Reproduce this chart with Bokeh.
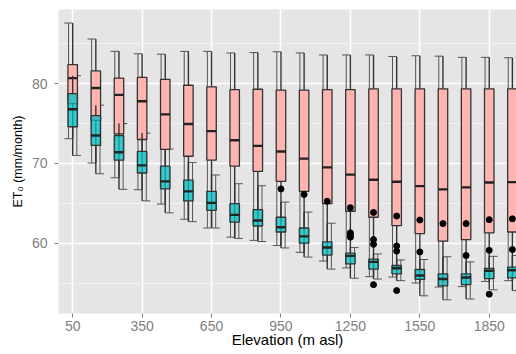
import numpy as np
from bokeh.plotting import figure
from bokeh.models import ColumnDataSource, FixedTicker, Range1d
from bokeh.embed import file_html
from bokeh.resources import INLINE

# ---- data ----
elevation = [50, 150, 250, 350, 450, 550, 650, 750, 850, 950,
             1050, 1150, 1250, 1350, 1450, 1550, 1650, 1750, 1850, 1950]

pink_upper = [87.6, 85.6, 84.05, 83.75, 83.7, 84.05, 84.05, 83.85, 83.9, 84.0,
              83.85, 83.6, 83.6, 83.6, 83.4, 83.5, 83.45, 83.3, 83.3, 83.25]
pink_q3 = [82.4, 81.6, 80.7, 80.8, 80.55, 79.8, 79.6, 79.25, 79.3, 79.2,
           79.2, 79.25, 79.25, 79.35, 79.35, 79.35, 79.35, 79.35, 79.35, 79.35]
pink_med = [80.7, 79.45, 78.6, 77.8, 76.15, 74.95, 74.05, 72.9, 72.2, 71.5,
            70.6, 69.5, 68.6, 67.95, 67.7, 67.15, 66.75, 67.0, 67.6, 67.65]
pink_q1 = [77.5, 75.4, 73.7, 73.0, 71.75, 70.9, 70.4, 69.65, 69.0, 67.75,
           66.5, 64.95, 64.0, 63.25, 62.2, 61.2, 60.25, 60.45, 61.3, 61.4]
pink_lower = [73.1, 70.05, 68.2, 66.7, 64.9, 63.0, 61.9, 60.75, 60.35, 59.7,
              58.85, 57.75, 56.9, 55.8, 55.75, 55.0, 54.5, 54.55, 55.2, 55.3]

cyan_upper = [81.0, 77.3, 75.0, 73.8, 71.8, 70.1, 68.55, 67.45, 67.2, 65.15,
              63.9, 62.5, 59.45, 58.65, 57.9, 57.95, 58.3, 57.65, 58.35, 58.45]
cyan_q3 = [78.75, 76.0, 73.5, 71.5, 69.65, 67.9, 66.5, 64.95, 64.2, 63.25,
           61.9, 60.15, 58.75, 58.0, 57.2, 56.7, 56.15, 56.15, 56.85, 57.0]
cyan_med = [76.8, 73.5, 71.4, 69.75, 67.75, 66.5, 65.05, 63.55, 62.85, 62.0,
            60.85, 59.45, 58.4, 57.65, 56.85, 55.95, 55.5, 55.7, 56.55, 56.6]
cyan_q1 = [74.6, 72.25, 70.4, 68.8, 66.8, 65.3, 64.1, 62.65, 62.15, 61.4,
           60.0, 58.5, 57.4, 56.75, 56.15, 55.45, 54.65, 54.8, 55.55, 55.65]
cyan_lower = [71.0, 68.7, 66.75, 65.3, 63.8, 62.7, 61.9, 60.6, 60.2, 59.4,
              58.25, 56.75, 55.6, 55.5, 55.3, 53.4, 52.9, 53.0, 54.15, 54.05]

outlier_elev = [950, 1050, 1150,
                1250, 1250, 1250, 1250,
                1350, 1350, 1350, 1350,
                1450, 1450, 1450, 1450,
                1550, 1550, 1650, 1750, 1750,
                1850, 1850, 1850, 1950, 1950]
outlier_val = [66.8, 66.1, 65.25,
               64.45, 61.3, 61.05, 60.75,
               63.85, 60.45, 59.85, 54.8,
               63.4, 59.65, 59.0, 54.05,
               62.9, 58.9, 62.45, 62.45, 58.45,
               62.95, 59.1, 53.6, 63.05, 59.2]

x_ticks = [50, 350, 650, 950, 1250, 1550, 1850]
y_ticks = [60, 70, 80]
y_minor = [55, 65, 75, 85]

# ---- styling constants ----
BOX_W = 41          # box width (data units)
EB_OFF = 18         # errorbar dodge offset
EB_HW = 18          # errorbar cap half width
PINK = "#FFB4B0"
CYAN = "#00BEC3"
EDGE = "#333333"
EB_COL = "#555555"
TICK_GREY = "#7F7F7F"
FONT = "Liberation Sans"

p = figure(width=516, height=354, output_backend="svg", toolbar_location=None,
           x_range=Range1d(-11.3, 1967.8), y_range=Range1d(51.18, 89.3),
           min_border_left=58, min_border_right=0, min_border_top=9,
           min_border_bottom=41)
p.background_fill_color = "#E5E5E5"
p.border_fill_color = "white"
p.outline_line_color = None

# grid
p.xgrid.ticker = FixedTicker(ticks=x_ticks)
p.xgrid.grid_line_color = "white"
p.xgrid.grid_line_width = 1.6
p.ygrid.ticker = FixedTicker(ticks=y_ticks, minor_ticks=y_minor)
p.ygrid.grid_line_color = "white"
p.ygrid.grid_line_width = 1.6
p.ygrid.minor_grid_line_color = "#F2F2F2"
p.ygrid.minor_grid_line_width = 1

# axes
p.xaxis.ticker = FixedTicker(ticks=x_ticks)
p.yaxis.ticker = FixedTicker(ticks=y_ticks, minor_ticks=y_minor)
for ax in (p.xaxis[0], p.yaxis[0]):
    ax.axis_line_color = None
    ax.major_tick_line_color = TICK_GREY
    ax.major_tick_line_width = 1
    ax.major_tick_out = 4
    ax.major_tick_in = 0
    ax.minor_tick_line_color = None
    ax.major_label_text_color = TICK_GREY
    ax.major_label_text_font = FONT
    ax.major_label_text_font_size = "14px"
    ax.axis_label_text_font = FONT
    ax.axis_label_text_font_style = "normal"
    ax.axis_label_text_color = "black"
p.xaxis.major_label_standoff = 3
p.xaxis.axis_label_standoff = -3
p.yaxis.major_label_standoff = 7
p.yaxis.axis_label_standoff = 4
p.xaxis.axis_label = "Elevation (m asl)"
p.xaxis.axis_label_text_font_size = "15px"
p.yaxis.axis_label = "ET\u2080 (mm/month)"
p.yaxis.axis_label_text_font_size = "12.5px"

def group_source(upper, q3, med, q1, lower, sign):
    x = np.array(elevation, dtype=float)
    ex = x + sign * EB_OFF
    return ColumnDataSource(dict(
        x=x, upper=upper, q3=q3, med=med, q1=q1, lower=lower,
        left=x - BOX_W / 2, right=x + BOX_W / 2,
        ex=ex, ex0=ex - EB_HW, ex1=ex + EB_HW))

src_pink = group_source(pink_upper, pink_q3, pink_med, pink_q1, pink_lower, -1)
src_cyan = group_source(cyan_upper, cyan_q3, cyan_med, cyan_q1, cyan_lower, +1)

# errorbars (dodged) first
for src in (src_pink, src_cyan):
    p.segment(x0="ex", y0="lower", x1="ex", y1="upper", source=src,
              line_color=EB_COL, line_width=1)
    p.segment(x0="ex0", y0="upper", x1="ex1", y1="upper", source=src,
              line_color=EB_COL, line_width=1)
    p.segment(x0="ex0", y0="lower", x1="ex1", y1="lower", source=src,
              line_color=EB_COL, line_width=1)

# boxplots
for src, fill, alpha in ((src_pink, PINK, 1.0), (src_cyan, CYAN, 0.75)):
    p.segment(x0="x", y0="q3", x1="x", y1="upper", source=src,
              line_color=EDGE, line_width=1.4)
    p.segment(x0="x", y0="q1", x1="x", y1="lower", source=src,
              line_color=EDGE, line_width=1.4)
    p.quad(left="left", right="right", top="q3", bottom="q1", source=src,
           fill_color=fill, fill_alpha=alpha, line_color=EDGE, line_width=1.3)
    p.segment(x0="left", y0="med", x1="right", y1="med", source=src,
              line_color="#222222", line_width=2.4)

p.scatter(x=outlier_elev, y=outlier_val, size=6, color="black")

open("out.html", "w").write(file_html(p, INLINE))
